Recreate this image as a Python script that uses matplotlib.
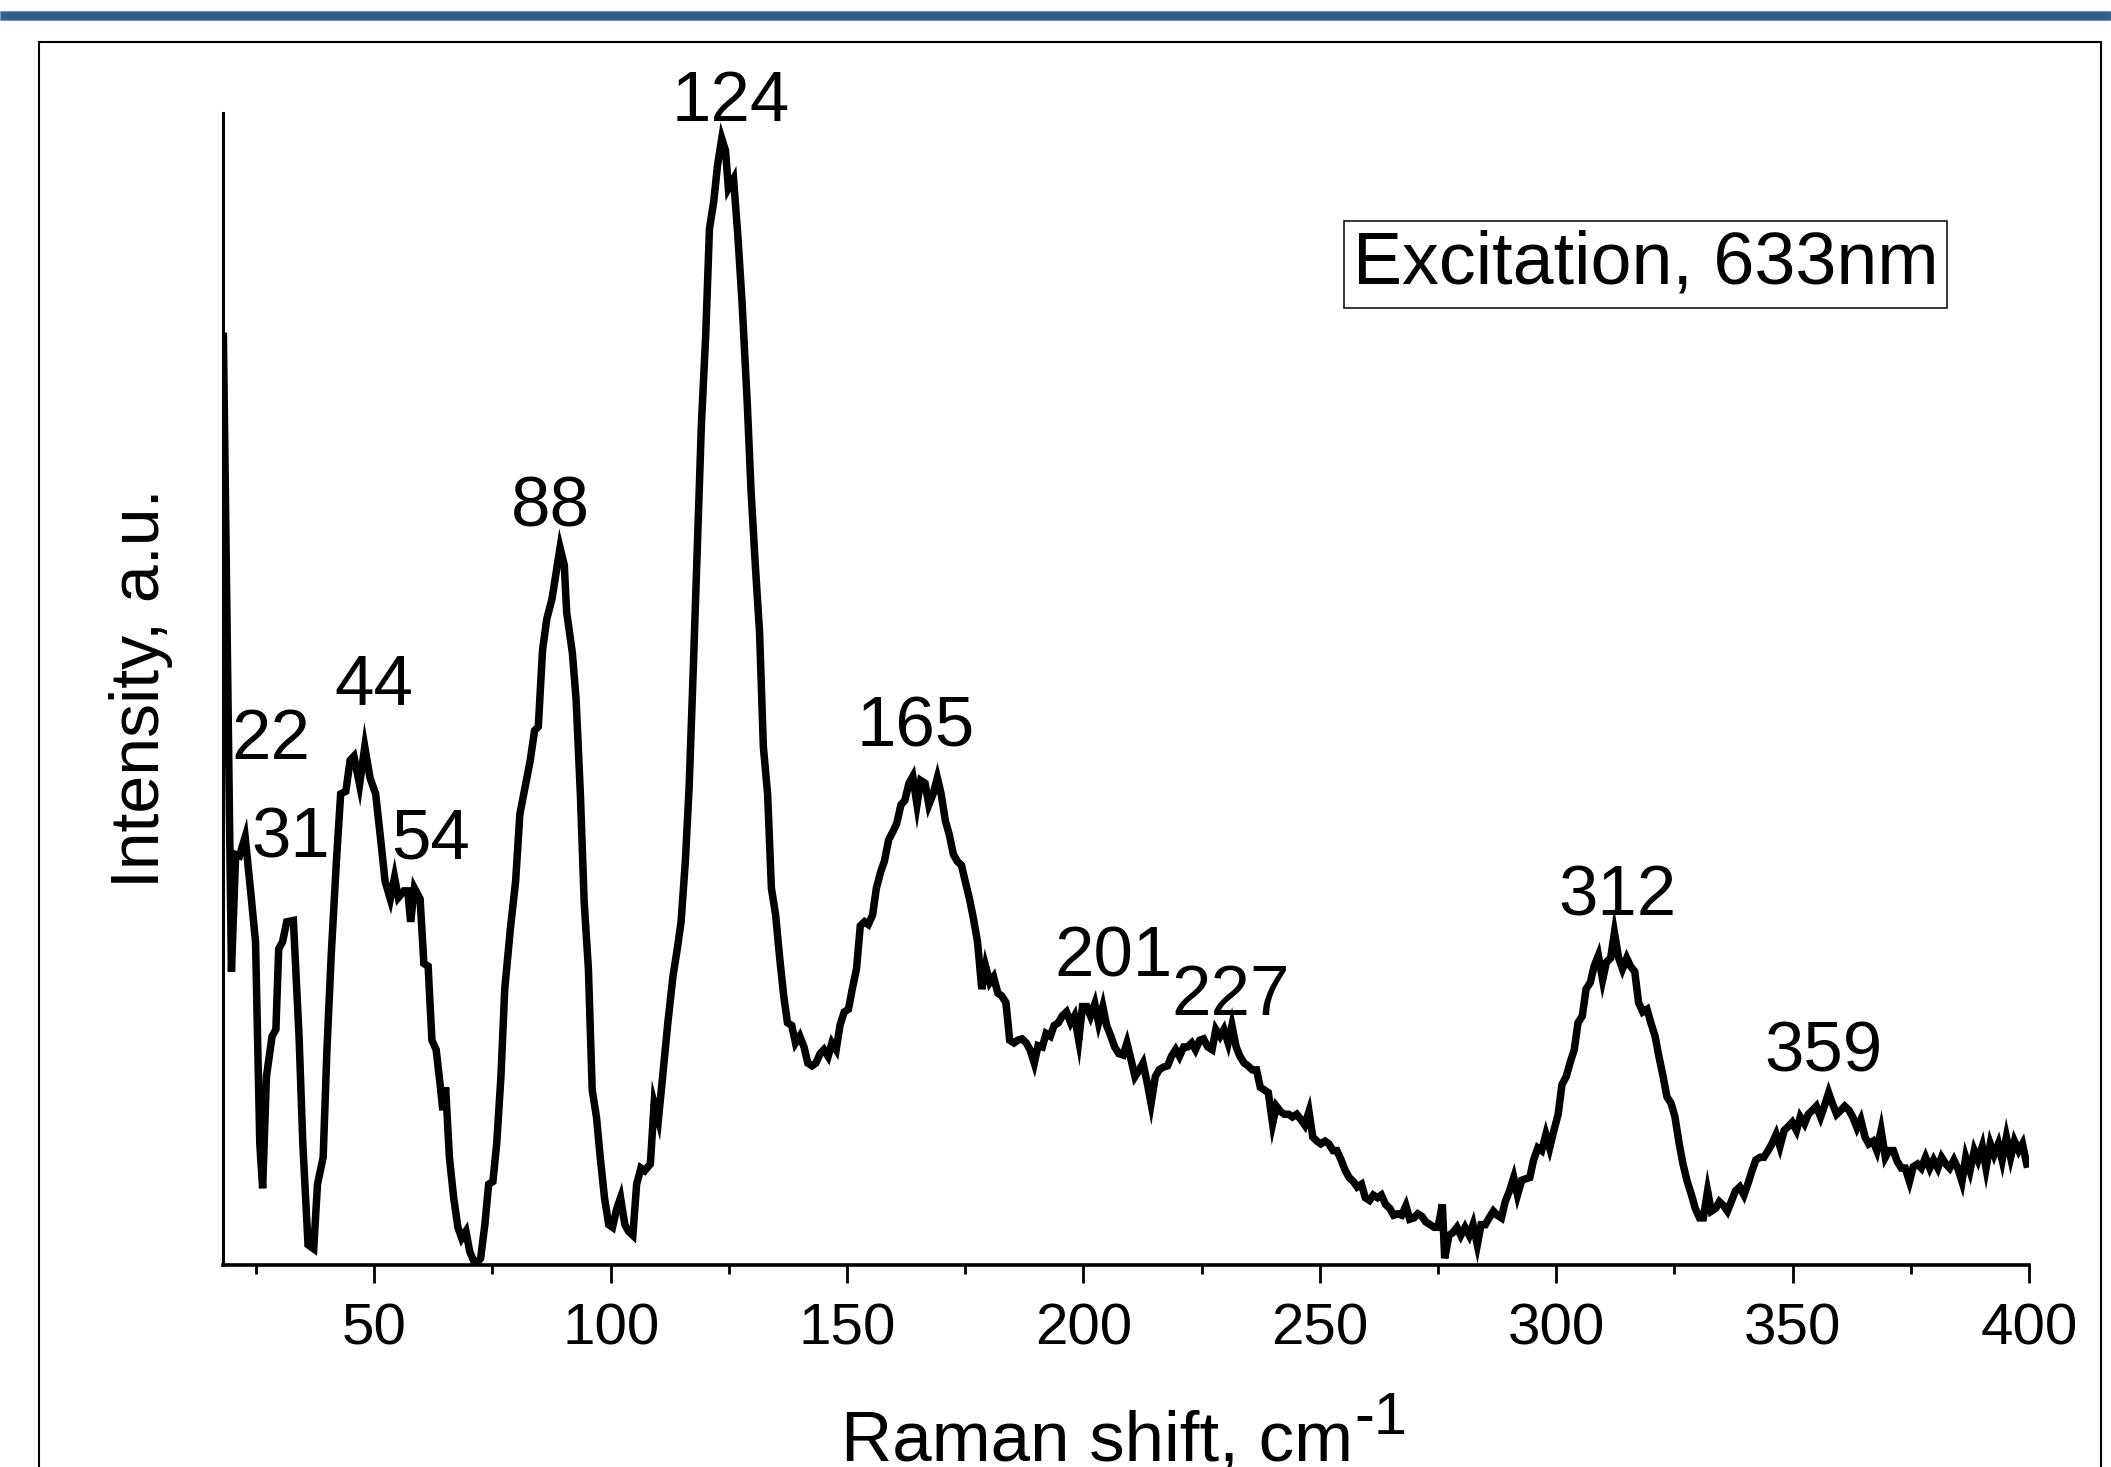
import matplotlib
matplotlib.use('Agg')
import matplotlib.pyplot as plt
import matplotlib.patches as mpatches
from matplotlib.ticker import FixedLocator

plt.rcParams['font.family'] = ['Liberation Sans', 'DejaVu Sans']

# Raman spectrum, excitation 633 nm
shift = [18.1, 19.8, 20.7, 21.5, 22.7, 23.8, 24.9, 25.8, 26.4, 27.2, 28.4, 29.2, 29.8, 30.6, 31.5,
         32.9, 34.1, 34.9, 36.0, 37.2, 38.0, 39.2, 40.0, 40.9, 42.0, 42.9, 44.0, 44.9, 45.7, 46.9,
         48.0, 49.1, 50.3, 51.4, 52.3, 53.4, 54.3, 55.1, 56.3, 57.1, 57.7, 58.5, 59.7, 60.5, 61.4,
         62.2, 63.1, 64.0, 64.5, 65.1, 65.9, 66.8, 67.7, 68.5, 69.4, 70.2, 71.4, 72.5, 73.4, 74.2,
         75.1, 75.9, 76.8, 77.6, 78.8, 79.9, 80.8, 81.9, 83.0, 83.9, 84.7, 85.6, 86.5, 87.6, 88.5,
         89.3, 90.2, 90.7, 91.9, 92.7, 93.6, 94.4, 95.3, 96.1, 97.0, 97.8, 98.7, 99.6, 100.4, 101.3,
         102.1, 103.0, 103.8, 104.7, 105.5, 106.4, 107.2, 108.4, 109.2, 110.1, 111.0, 112.1, 113.2, 114.1, 114.9,
         115.8, 116.6, 117.5, 118.4, 119.2, 120.1, 120.9, 121.8, 122.6, 123.5, 124.3, 124.9, 126.0, 126.9, 127.8,
         128.9, 129.7, 130.6, 131.5, 132.3, 133.2, 134.0, 134.9, 135.7, 136.6, 137.4, 138.3, 139.1, 140.0, 140.9,
         141.7, 142.6, 143.4, 144.3, 145.1, 146.0, 146.8, 147.7, 148.5, 149.4, 150.3, 151.1, 152.0, 152.8, 153.7,
         154.5, 155.4, 156.2, 157.1, 157.9, 158.8, 159.7, 160.5, 161.4, 162.2, 163.1, 163.9, 164.8, 165.6, 166.5,
         167.3, 168.2, 169.1, 169.9, 170.8, 171.6, 172.5, 173.3, 174.2, 175.0, 175.9, 176.7, 177.6, 178.5, 179.3,
         180.2, 181.0, 181.9, 182.7, 183.6, 184.4, 185.3, 186.1, 187.0, 187.9, 188.7, 189.6, 190.4, 191.3, 192.1,
         193.0, 193.8, 194.7, 195.5, 196.4, 197.3, 198.1, 199.0, 199.8, 200.7, 201.5, 202.4, 203.2, 204.1, 204.9,
         205.8, 206.6, 207.5, 208.4, 209.2, 210.1, 210.9, 211.8, 212.6, 213.5, 214.3, 215.2, 216.0, 216.9, 217.8,
         218.6, 219.5, 220.3, 221.2, 222.0, 222.9, 223.7, 224.6, 225.4, 226.3, 227.2, 228.0, 228.9, 229.7, 230.6,
         231.4, 232.3, 233.1, 234.0, 234.8, 235.7, 236.6, 237.4, 238.3, 239.1, 240.0, 240.8, 241.7, 242.5, 243.4,
         244.2, 245.1, 246.0, 246.8, 247.7, 248.5, 249.4, 250.2, 251.1, 251.9, 252.8, 253.6, 254.5, 255.4, 256.2,
         257.1, 257.9, 258.8, 259.6, 260.5, 261.3, 262.2, 263.0, 263.9, 264.8, 265.6, 266.5, 267.3, 268.2, 269.0,
         269.9, 270.7, 271.6, 272.4, 273.3, 274.2, 275.0, 275.9, 276.4, 277.3, 278.1, 279.0, 279.8, 280.7, 281.6,
         282.4, 283.3, 284.1, 285.0, 285.8, 286.7, 287.5, 288.4, 289.2, 290.1, 291.0, 291.8, 292.7, 293.5, 294.4,
         295.2, 296.1, 296.9, 297.8, 298.6, 299.5, 300.4, 301.2, 302.1, 302.9, 303.8, 304.6, 305.5, 306.3, 307.2,
         308.0, 308.9, 309.8, 310.6, 311.5, 312.3, 313.2, 314.0, 314.9, 315.7, 316.6, 317.4, 318.3, 319.2, 320.0,
         320.9, 321.7, 322.6, 323.4, 324.3, 325.1, 326.0, 326.8, 327.7, 328.6, 329.4, 330.3, 331.1, 332.0, 332.8,
         333.7, 334.5, 335.4, 336.2, 337.1, 337.9, 338.8, 339.7, 340.5, 341.4, 342.2, 343.1, 343.9, 344.8, 345.6,
         346.5, 347.3, 348.2, 349.1, 349.9, 350.8, 351.6, 352.5, 353.3, 354.2, 355.0, 355.9, 356.7, 357.6, 358.4,
         359.3, 360.2, 361.0, 361.9, 362.7, 363.6, 364.4, 365.3, 366.1, 367.0, 367.8, 368.7, 369.6, 370.4, 371.3,
         372.1, 373.0, 373.8, 374.7, 375.5, 376.4, 377.2, 378.1, 379.0, 379.8, 380.7, 381.5, 382.4, 383.2, 384.1,
         384.9, 385.8, 386.6, 387.5, 388.4, 389.2, 390.1, 390.9, 391.8, 392.6, 393.5, 394.3, 395.2, 396.1, 396.9,
         397.8, 398.6, 399.5]
intensity = [690, 218, 305, 304, 318, 280, 240, 90, 57, 140, 170, 175, 235, 240, 255,
             256, 170, 90, 15, 12, 60, 80, 160, 230, 300, 350, 352, 375, 378, 357,
             385, 362, 350, 315, 285, 272, 288, 273, 278, 278, 255, 280, 272, 224, 222,
             167, 160, 132, 115, 132, 80, 50, 28, 20, 25, 10, 0, 5, 30, 60,
             62, 90, 140, 205, 250, 285, 335, 355, 375, 397, 400, 457, 480, 495, 515,
             533, 520, 485, 455, 420, 350, 270, 220, 130, 110, 80, 50, 30, 28, 42,
             50, 30, 25, 22, 60, 72, 70, 75, 120, 108, 140, 180, 215, 235, 255,
             300, 355, 445, 540, 625, 690, 770, 790, 817, 837, 828, 800, 807, 765, 715,
             640, 575, 520, 470, 385, 350, 280, 260, 230, 200, 180, 178, 165, 170, 162,
             150, 148, 150, 157, 160, 155, 165, 160, 178, 188, 190, 205, 220, 252, 255,
             253, 260, 280, 292, 300, 316, 322, 328, 342, 345, 358, 363, 342, 360, 358,
             342, 350, 362, 350, 330, 320, 305, 300, 297, 285, 272, 258, 240, 205, 222,
             210, 214, 202, 200, 195, 167, 165, 167, 168, 165, 160, 150, 163, 162, 172,
             170, 178, 180, 185, 188, 180, 185, 167, 192, 192, 185, 194, 180, 192, 178,
             170, 162, 157, 156, 165, 152, 140, 145, 150, 135, 120, 140, 145, 147, 148,
             155, 160, 155, 162, 162, 165, 160, 167, 168, 162, 160, 175, 170, 175, 165,
             178, 162, 155, 150, 148, 145, 145, 132, 130, 128, 105, 118, 114, 112, 112,
             110, 112, 108, 104, 114, 95, 92, 90, 92, 90, 85, 85, 78, 70, 65,
             62, 58, 60, 50, 48, 52, 50, 52, 45, 42, 37, 38, 37, 44, 34,
             35, 38, 36, 32, 30, 28, 28, 45, 5, 22, 24, 28, 22, 28, 22,
             30, 15, 30, 30, 35, 40, 37, 35, 47, 55, 65, 52, 63, 64, 65,
             78, 87, 85, 97, 87, 100, 112, 134, 140, 150, 160, 180, 185, 205, 210,
             222, 230, 212, 225, 228, 247, 228, 220, 228, 222, 218, 195, 188, 190, 180,
             170, 155, 140, 125, 120, 110, 90, 75, 62, 52, 42, 35, 35, 55, 40,
             42, 47, 44, 40, 48, 55, 58, 52, 60, 70, 78, 80, 80, 85, 90,
             97, 88, 100, 103, 106, 100, 110, 105, 112, 115, 118, 110, 118, 128, 120,
             112, 115, 118, 115, 110, 102, 108, 95, 90, 92, 85, 100, 80, 85, 85,
             77, 72, 72, 62, 73, 75, 72, 80, 72, 78, 72, 80, 75, 72, 78,
             72, 62, 80, 70, 85, 78, 88, 72, 90, 82, 90, 78, 95, 80, 92,
             85, 90, 75]

peak_labels = ['22', '31', '44', '54', '88', '124', '165', '201', '227', '312', '359']
label_x = [28.1, 32.3, 50.0, 62.0, 87.3, 125.5, 164.5, 206.4, 231.1, 312.9, 356.5]
label_y = [376, 303, 416, 302, 549, 850, 385, 214, 186, 260, 144]

major_ticks = [50, 100, 150, 200, 250, 300, 350, 400]
minor_ticks = [25, 75, 125, 175, 225, 275, 325, 375]

fig = plt.figure(figsize=(21.11, 14.67), dpi=100)
fig.patch.set_facecolor('white')

# slide decoration: blue band at the top and the thin frame around the chart
fig.add_artist(mpatches.Rectangle((0, 0.9864), 1, 0.0061, transform=fig.transFigure,
                                  facecolor='#375D8B', edgecolor='#7D99BD', linewidth=0.8))
fig.add_artist(mpatches.Rectangle((0.0185, -0.02), 0.9768, 0.9914, transform=fig.transFigure,
                                  facecolor='none', edgecolor='black', linewidth=1.5))

ax = fig.add_axes([0.1056, 0.1377, 0.8556, 0.7853])
ax.plot(shift, intensity, color='black', linewidth=5.4, solid_joinstyle='miter')

ax.set_xlim(18, 400)
ax.set_ylim(0, 856)

ax.spines['top'].set_visible(False)
ax.spines['right'].set_visible(False)
ax.spines['left'].set_linewidth(2.2)
ax.spines['bottom'].set_linewidth(2.6)

ax.xaxis.set_major_locator(FixedLocator(major_ticks))
ax.xaxis.set_minor_locator(FixedLocator(minor_ticks))
ax.tick_params(axis='x', which='major', direction='out', length=13, width=2, labelsize=42, pad=14)
ax.tick_params(axis='x', which='minor', direction='out', length=6.5, width=2)
ax.set_yticks([])

# x label with a full-size raised "-1" like the original
ax.set_xlabel('Raman shift, cm', fontsize=51)
ax.xaxis.set_label_coords(0.484, -0.170)
ax.xaxis.label.set_va('baseline')
ax.annotate('-1', xy=(1, 0), xycoords=ax.xaxis.label, xytext=(1, 30), textcoords='offset points',
            fontsize=43, ha='left', va='baseline')

ax.set_ylabel('Intensity, a.u.', fontsize=49)
ax.yaxis.set_label_coords(-0.0454, 0.501)
ax.yaxis.label.set_va('center')

for lab, px, py in zip(peak_labels, label_x, label_y):
    ax.text(px, py, lab, fontsize=51, ha='center', va='baseline')

ax.text(0.7877, 0.8685, 'Excitation, 633nm', transform=ax.transAxes, fontsize=53,
        ha='center', va='center',
        bbox=dict(boxstyle='square,pad=0.12', facecolor='white', edgecolor='black', linewidth=1.1))

plt.savefig('out.png', dpi=100)
